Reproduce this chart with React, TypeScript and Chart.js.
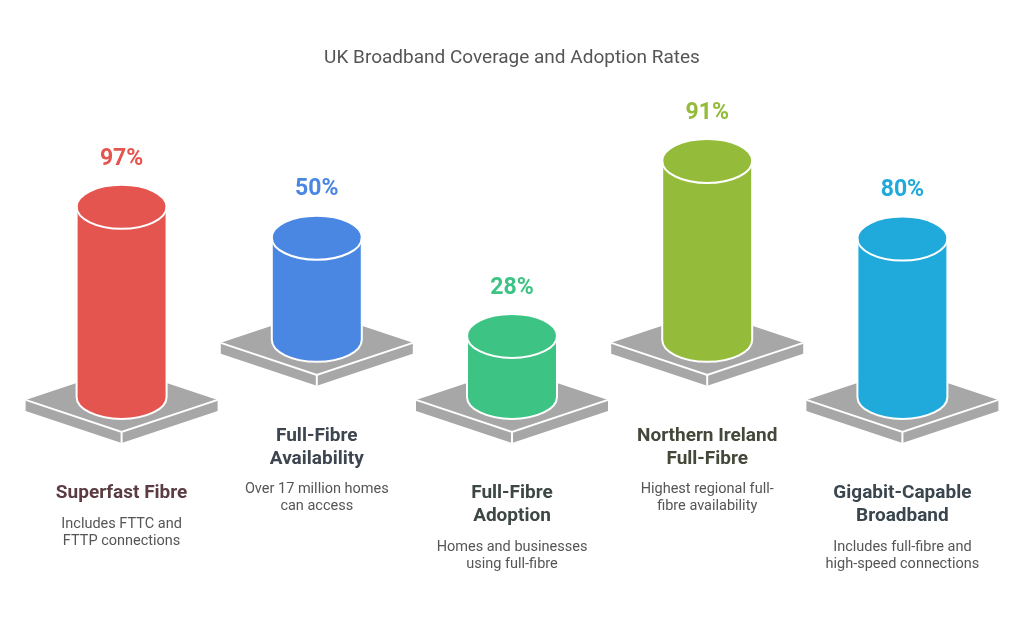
import React, { useEffect, useRef } from "react";
import { Chart, registerables } from "chart.js";

Chart.register(...registerables);

const chartTitle = "UK Broadband Coverage and Adoption Rates";
const categories = [
  "Superfast Fibre",
  "Full-Fibre Availability",
  "Full-Fibre Adoption",
  "Northern Ireland Full-Fibre",
  "Gigabit-Capable Broadband",
];
const titleLines = [
  ["Superfast Fibre"],
  ["Full-Fibre", "Availability"],
  ["Full-Fibre", "Adoption"],
  ["Northern Ireland", "Full-Fibre"],
  ["Gigabit-Capable", "Broadband"],
];
const descLines = [
  ["Includes FTTC and", "FTTP connections"],
  ["Over 17 million homes", "can access"],
  ["Homes and businesses", "using full-fibre"],
  ["Highest regional full-", "fibre availability"],
  ["Includes full-fibre and", "high-speed connections"],
];
const values = [97, 50, 28, 91, 80];
const valueLabels = ["97%", "50%", "28%", "91%", "80%"];
const colors = ["#E5554F", "#4A87E2", "#3DC485", "#94BB3A", "#1FAADB"];
const titleColors = ["#5A3C42", "#3C4550", "#3D4743", "#434838", "#3A464D"];
// raised rows (staggered layout), in value units
const rowBase = [0, 30.5, 0, 30.5, 0];

const FONT = "Roboto, 'Noto Sans', sans-serif";

const cylinderPlugin = {
  id: "cylinders",
  beforeDatasetDraw() {
    return false;
  },
  afterDatasetsDraw(chart: any) {
    const ctx = chart.ctx as CanvasRenderingContext2D;
    const meta = chart.getDatasetMeta(0);
    meta.data.forEach((bar: any, i: number) => {
      const { x, y, base, width } = bar.getProps(["x", "y", "base", "width"], true);
      const rx = width / 2;
      const ry = 22;
      const bottom = base + 8.6;
      const top = y;
      // platform
      const pc = bottom + 3;
      const hw = 96;
      const hh = 32;
      const t = 11;
      ctx.save();
      ctx.fillStyle = "#A7A7A7";
      ctx.beginPath();
      ctx.moveTo(x - hw, pc);
      ctx.lineTo(x, pc - hh);
      ctx.lineTo(x + hw, pc);
      ctx.lineTo(x + hw, pc + t);
      ctx.lineTo(x, pc + hh + t);
      ctx.lineTo(x - hw, pc + t);
      ctx.closePath();
      ctx.fill();
      ctx.strokeStyle = "#FFFFFF";
      ctx.lineWidth = 2;
      ctx.beginPath();
      ctx.moveTo(x - hw, pc);
      ctx.lineTo(x, pc + hh);
      ctx.lineTo(x + hw, pc);
      ctx.moveTo(x, pc + hh);
      ctx.lineTo(x, pc + hh + t);
      ctx.stroke();

      // cylinder body
      ctx.fillStyle = colors[i];
      ctx.beginPath();
      ctx.moveTo(x - rx, top);
      ctx.lineTo(x - rx, bottom);
      ctx.ellipse(x, bottom, rx, ry, 0, Math.PI, 0, true);
      ctx.lineTo(x + rx, top);
      ctx.ellipse(x, top, rx, ry, 0, 0, Math.PI, true);
      ctx.closePath();
      ctx.fill();
      ctx.lineWidth = 2;
      ctx.strokeStyle = "#FFFFFF";
      ctx.stroke();
      // top cap front edge
      ctx.beginPath();
      ctx.ellipse(x, top, rx, ry, 0, 0, Math.PI, false);
      ctx.stroke();

      // value label
      ctx.fillStyle = colors[i];
      ctx.font = `bold 23px ${FONT}`;
      ctx.textAlign = "center";
      ctx.textBaseline = "middle";
      ctx.fillText(valueLabels[i], x, top - 48);

      // titles
      let ty = bottom + 96;
      ctx.fillStyle = titleColors[i];
      ctx.font = `bold 19px ${FONT}`;
      titleLines[i].forEach((line, k) => {
        ctx.fillText(line, x, ty + k * 23);
      });
      ty += (titleLines[i].length - 1) * 23 + 31;
      ctx.fillStyle = "#555555";
      ctx.font = `14.5px ${FONT}`;
      descLines[i].forEach((line, k) => {
        ctx.fillText(line, x, ty + k * 17);
      });
      ctx.restore();
    });
  },
};

export default function App() {
  const ref = useRef<HTMLCanvasElement>(null);
  useEffect(() => {
    if (!ref.current) return;
    const chart = new Chart(ref.current, {
      type: "bar",
      data: {
        labels: categories,
        datasets: [
          {
            label: "Rate",
            data: values.map((v, i) => [rowBase[i], rowBase[i] + v]) as any,
            backgroundColor: colors,
            borderWidth: 0,
            barPercentage: 0.461,
            categoryPercentage: 1,
          },
        ],
      },
      options: {
        responsive: false,
        animation: false,
        layout: { padding: { left: 24, right: 24, top: 0, bottom: 138 } },
        scales: {
          x: { display: false },
          y: { display: false, min: -49, max: 143.5 },
        },
        plugins: {
          legend: { display: false },
          tooltip: { enabled: false },
          title: {
            display: true,
            text: chartTitle,
            color: "#555555",
            font: { family: FONT, size: 19, weight: "normal" },
            padding: { top: 47, bottom: 50 },
          },
        },
      },
      plugins: [cylinderPlugin],
    });
    return () => chart.destroy();
  }, []);
  return (
    <div style={{ position: "absolute", left: 0, top: 0, width: 1024, height: 618, background: "#fff" }}>
      <canvas ref={ref} width={1024} height={618} />
    </div>
  );
}
